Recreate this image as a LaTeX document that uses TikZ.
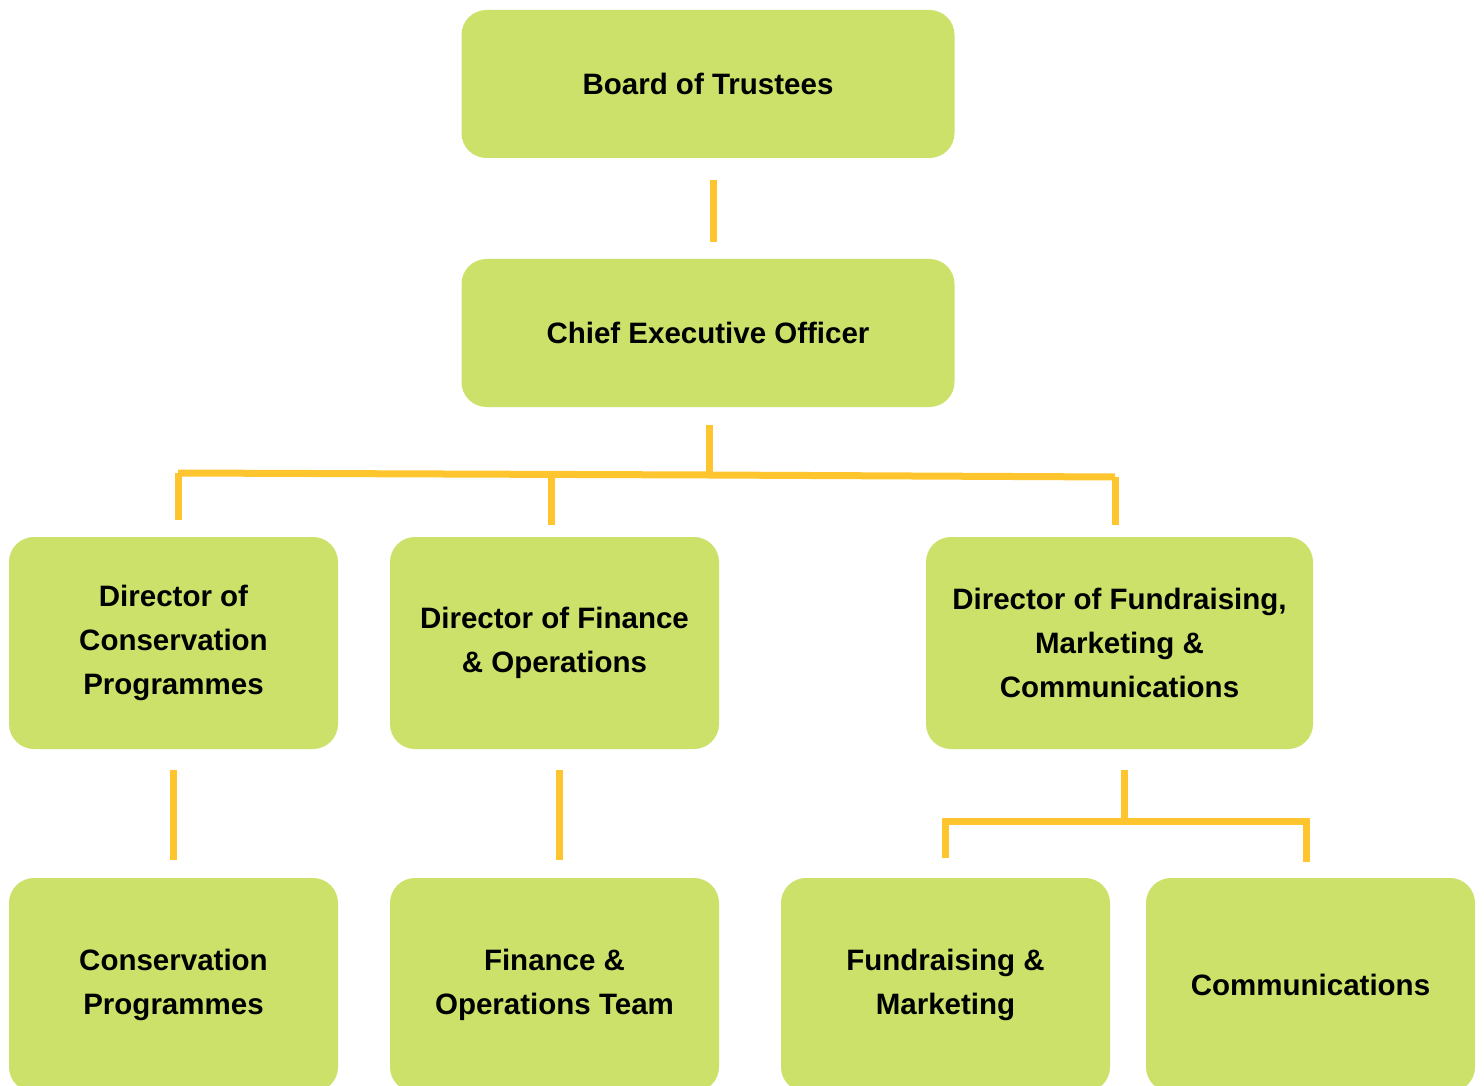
\documentclass[tikz,border=0pt]{standalone}
\usepackage{fontspec}
\setmainfont{Liberation Sans}
\usepackage{tikz}

\definecolor{boxgreen}{HTML}{CBE169}
\definecolor{lineyellow}{HTML}{FFC52E}

\tikzset{
    post/.style={draw=none, fill=boxgreen, rounded corners=25pt, inner sep=0pt,
        align=center, font=\fontsize{29.5}{44}\selectfont\bfseries},
    link/.style={draw=lineyellow, line width=7pt}
}

\begin{document}
\begin{tikzpicture}[x=1pt, y=-1pt]
    \path[use as bounding box, clip] (0,0) rectangle (1484,1086);

    % Top levels
    \node[post, minimum width=493pt, minimum height=148pt] (board) at (708,84) {Board of Trustees};
    \node[post, minimum width=493pt, minimum height=148pt] (ceo) at (708,333) {Chief Executive Officer};

    % Directors
    \node[post, minimum width=329pt, minimum height=212pt] (dcons) at (173.5,643) {Director of\\Conservation\\Programmes};
    \node[post, minimum width=329pt, minimum height=212pt] (dfin) at (554.5,643) {Director of Finance\\\& Operations};
    \node[post, minimum width=387pt, minimum height=212pt] (dfund) at (1119.5,643) {Director of Fundraising,\\Marketing \&\\Communications};

    % Teams
    \node[post, minimum width=329pt, minimum height=214pt] (cons) at (173.5,985) {Conservation\\Programmes};
    \node[post, minimum width=329pt, minimum height=214pt] (fin) at (554.5,985) {Finance \&\\Operations Team};
    \node[post, minimum width=329pt, minimum height=214pt] (fund) at (945.5,985) {Fundraising \&\\Marketing};
    \node[post, minimum width=329pt, minimum height=214pt] (comms) at (1310.5,985) {Communications};

    % Board to CEO
    \draw[link] ([xshift=5pt, yshift=-22pt]board.south) -- ([xshift=5pt, yshift=17pt]ceo.north);

    % CEO to directors
    \coordinate (ceobar) at (709,475);
    \draw[link] ([xshift=1pt, yshift=-18pt]ceo.south) -- (ceobar);
    \draw[link] (178,473) -- (ceobar) -- (1115,477);
    \draw[link] (178,473) -- ([xshift=4.5pt, yshift=17pt]dcons.north);
    \draw[link] (551,476) -- ([xshift=-3.5pt, yshift=12pt]dfin.north);
    \draw[link] (1115,477) -- ([xshift=-4.5pt, yshift=12pt]dfund.north);

    % Directors to teams
    \draw[link] ([yshift=-21pt]dcons.south) -- ([yshift=18pt]cons.north);
    \draw[link] ([xshift=4.5pt, yshift=-21pt]dfin.south) -- ([xshift=4.5pt, yshift=18pt]fin.north);
    \coordinate (fundbar) at (1124,821);
    \draw[link] ([xshift=4.5pt, yshift=-21pt]dfund.south) -- (fundbar);
    \draw[link] ([yshift=20pt]fund.north) |- (fundbar) -| ([xshift=-4.5pt, yshift=16pt]comms.north);
\end{tikzpicture}
\end{document}
